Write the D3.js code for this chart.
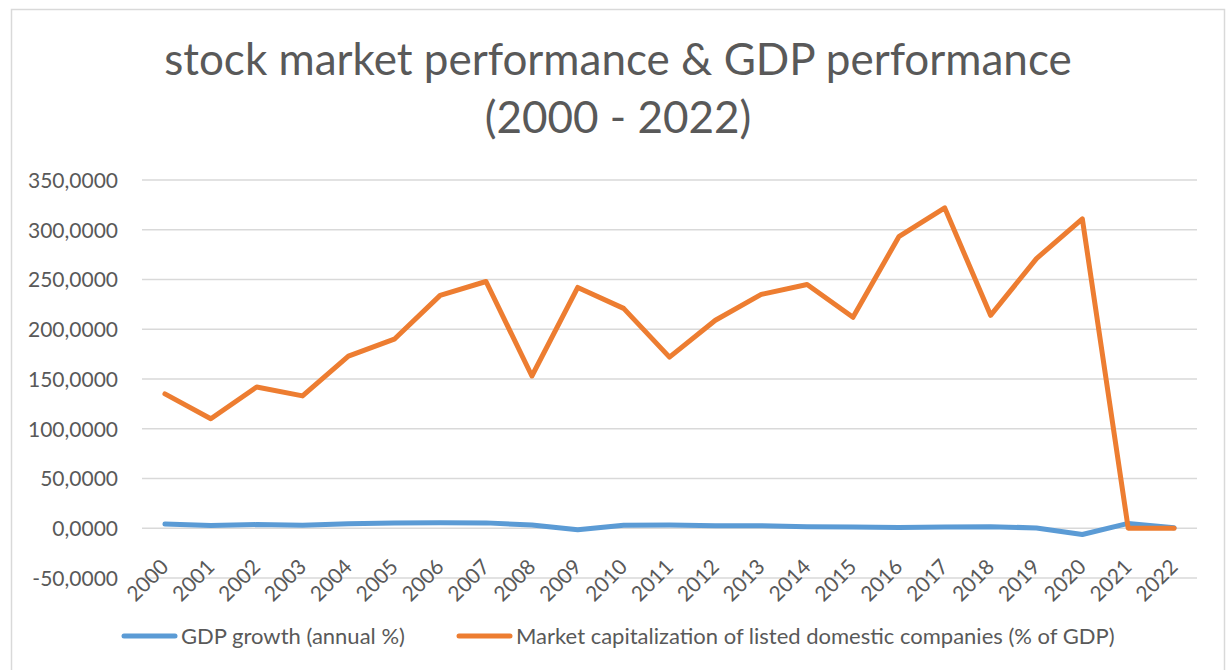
<!DOCTYPE html>
<html>
<head>
<meta charset="utf-8">
<script src="https://cdn.jsdelivr.net/npm/d3@7/dist/d3.min.js"></script>
<style>
  html, body { margin: 0; padding: 0; background: #fff; }
  svg { display: block; }
  text { font-family: Lato, "Open Sans", sans-serif; fill: #595959; }
</style>
</head>
<body>
<svg id="chart" width="1227" height="670"></svg>
<script>
const years = ["2000","2001","2002","2003","2004","2005","2006","2007","2008","2009","2010","2011","2012","2013","2014","2015","2016","2017","2018","2019","2020","2021","2022"];
const gdpGrowth = [4.2, 2.7, 3.7, 2.9, 4.6, 5.3, 5.6, 5.4, 3.2, -1.5, 3.0, 3.2, 2.4, 2.5, 1.4, 1.3, 0.7, 1.2, 1.6, 0.3, -6.3, 4.9, 0.5];
const marketCap = [135, 110, 142, 133, 173, 190, 234, 248, 153, 242, 221, 172, 209, 235, 245, 212, 293, 322, 214, 271, 311, 0, 0];
const yTicks = [-50, 0, 50, 100, 150, 200, 250, 300, 350];
const seriesNames = ["GDP growth (annual %)", "Market capitalization of listed domestic companies (% of GDP)"];
const seriesColors = ["#5B9BD5", "#ED7D31"];
const titleLines = ["stock market performance & GDP performance", "(2000 - 2022)"];

const svg = d3.select("#chart");

// chart frame
svg.append("rect")
  .attr("x", 11.5).attr("y", 9.5)
  .attr("width", 1213).attr("height", 700)
  .attr("fill", "#fff").attr("stroke", "#D9D9D9").attr("stroke-width", 1.5);

const plot = { left: 142, right: 1197, top: 180, bottom: 578 };

const x = d3.scaleBand().domain(years).range([plot.left, plot.right]).padding(0);
const y = d3.scaleLinear().domain([-50, 350]).range([plot.bottom, plot.top]);

// gridlines
svg.append("g")
  .selectAll("line")
  .data(yTicks)
  .join("line")
  .attr("x1", plot.left).attr("x2", plot.right)
  .attr("y1", d => y(d)).attr("y2", d => y(d))
  .attr("stroke", "#D9D9D9").attr("stroke-width", 1.5);

// y axis labels
const fmt = d => d3.format(",")(d).replace(/,/g, " ").replace(" ", ",") ;
const yAxis = d3.axisLeft(y).tickValues(yTicks).tickSize(0).tickPadding(0)
  .tickFormat(d => (d < 0 ? "-" : "") + Math.abs(d) + ",0000");
const gy = svg.append("g").attr("transform", `translate(118,0)`).call(yAxis);
gy.select(".domain").remove();
gy.selectAll("text")
  .attr("font-family", "Lato, 'Open Sans', sans-serif")
  .attr("font-size", 21).attr("fill", "#595959").attr("dy", "0.35em");

// x axis labels (rotated)
const xAxis = d3.axisBottom(x).tickSize(0).tickPadding(0);
const gx = svg.append("g").attr("transform", `translate(0,${y(0)})`).call(xAxis);
gx.select(".domain").remove();
gx.selectAll("text")
  .attr("font-family", "Lato, 'Open Sans', sans-serif")
  .attr("font-size", 21).attr("fill", "#595959")
  .attr("text-anchor", "end")
  .attr("dy", null).attr("y", null)
  .attr("transform", "translate(5,40) rotate(-45)");

// lines
const line = d3.line()
  .x((d, i) => x(years[i]) + x.bandwidth() / 2)
  .y(d => y(d));

[gdpGrowth, marketCap].forEach((vals, k) => {
  svg.append("path")
    .datum(vals)
    .attr("d", line)
    .attr("fill", "none")
    .attr("stroke", seriesColors[k])
    .attr("stroke-width", 5)
    .attr("stroke-linejoin", "round")
    .attr("stroke-linecap", "round");
});

// title
const title = svg.append("text")
  .attr("text-anchor", "middle")
  .attr("font-size", 44)
  .attr("fill", "#595959");
titleLines.forEach((t, i) => {
  title.append("tspan").attr("x", 618).attr("y", 75 + i * 58).text(t);
});

// legend
const legendItems = [
  { name: seriesNames[0], color: seriesColors[0], x: 122 },
  { name: seriesNames[1], color: seriesColors[1], x: 457 }
];
const lg = svg.append("g");
legendItems.forEach(it => {
  lg.append("line")
    .attr("x1", it.x + 2).attr("x2", it.x + 53)
    .attr("y1", 636).attr("y2", 636)
    .attr("stroke", it.color).attr("stroke-width", 5)
    .attr("stroke-linecap", "round");
  lg.append("text")
    .attr("x", it.x + 59).attr("y", 636).attr("dy", "0.35em")
    .attr("font-size", 22).attr("fill", "#595959")
    .text(it.name);
});
</script>
</body>
</html>
